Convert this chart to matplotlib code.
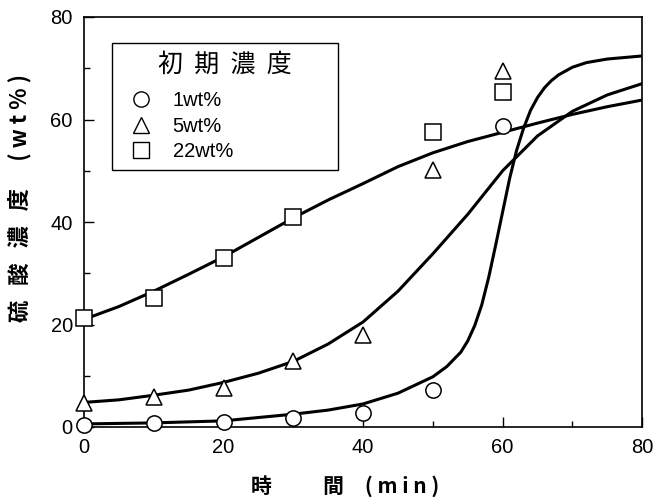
import numpy as np
import matplotlib
matplotlib.use('Agg')
import matplotlib.pyplot as plt
from matplotlib.lines import Line2D

plt.rcParams['font.family'] = ['Liberation Sans', 'Noto Sans CJK JP', 'DejaVu Sans']

# measured points
t_pts = [0, 10, 20, 30, 40, 50, 60]
c1_pts = [0.4, 0.8, 0.9, 1.8, 2.8, 7.2, 58.7]
c5_pts = [4.7, 5.9, 7.6, 12.8, 18.0, 50.2, 69.5]
t22_pts = [0, 10, 20, 30, 50, 60]
c22_pts = [21.2, 25.2, 33.0, 40.9, 57.5, 65.3]

# fitted curves
t1_curve = [0, 10, 20, 30, 35, 40, 45, 50, 52, 54, 55, 56, 57, 58, 59, 60, 61, 62, 63, 64,
            65, 66, 67, 68, 70, 72, 75, 80]
c1_curve = [0.6, 0.8, 1.2, 2.5, 3.3, 4.5, 6.6, 9.8, 11.8, 14.6, 16.8, 19.8, 23.8, 29.2, 35.5,
            42.0, 48.5, 54.0, 58.3, 61.8, 64.3, 66.2, 67.6, 68.7, 70.2, 71.1, 71.8, 72.4]
t5_curve = [0, 5, 10, 15, 20, 25, 30, 35, 40, 45, 50, 55, 60, 65, 70, 75, 80]
c5_curve = [4.8, 5.3, 6.2, 7.2, 8.7, 10.5, 12.8, 16.2, 20.5, 26.5, 33.8, 41.5, 50.0, 56.8, 61.6, 64.8, 67.0]
t22_curve = [0, 5, 10, 15, 20, 25, 30, 35, 40, 45, 50, 55, 60, 65, 70, 75, 80]
c22_curve = [21, 23.5, 26.5, 29.8, 33.2, 37, 40.8, 44.3, 47.5, 50.8, 53.5, 55.7, 57.5, 59.3, 61, 62.5, 63.8]

labels = ['1wt%', '5wt%', '22wt%']

fig = plt.figure(figsize=(6.56, 5.0), dpi=100)
ax = fig.add_axes([0.128, 0.146, 0.851, 0.82])

for tc, cc in [(t1_curve, c1_curve), (t5_curve, c5_curve), (t22_curve, c22_curve)]:
    ax.plot(tc, cc, color='black', lw=2.2, zorder=2, solid_joinstyle='round')

mk = dict(linestyle='none', markerfacecolor='white', markeredgecolor='black',
          markeredgewidth=1.1, clip_on=False, zorder=3)
ax.plot(t_pts, c1_pts, marker='o', markersize=11, **mk)
ax.plot(t_pts, c5_pts, marker='^', markersize=12, **mk)
ax.plot(t22_pts, c22_pts, marker='s', markersize=11, **mk)

ax.set_xlim(0, 80)
ax.set_ylim(0, 80)
ax.set_xticks([0, 20, 40, 60, 80])
ax.set_yticks([0, 20, 40, 60, 80])
ax.set_xticks([10, 30, 50, 70], minor=True)
ax.set_yticks([10, 30, 50, 70], minor=True)
ax.tick_params(which='major', direction='in', length=7, width=1, labelsize=14.5, pad=8)
ax.tick_params(which='minor', direction='in', length=4, width=1)
for s in ax.spines.values():
    s.set_linewidth(1.2)

ax.set_xlabel('時　　  間　( m i n )', fontsize=15, fontweight='bold',
              family=['Noto Sans CJK JP'], va='center')
ax.xaxis.set_label_coords(0.468, -0.145)
ax.set_ylabel('硫   酸   濃   度　 ( w t % )', fontsize=16, fontweight='bold',
              family=['Noto Sans CJK JP'], va='center')
ax.yaxis.set_label_coords(-0.115, 0.558)

handles = [Line2D([], [], marker=m, markersize=s, linestyle='none',
                  markerfacecolor='white', markeredgecolor='black', markeredgewidth=1.0)
           for m, s in [('o', 11), ('^', 12), ('s', 11)]]
leg = ax.legend(handles, labels, loc='upper left', bbox_to_anchor=(0.05, 0.622, 0.405, 0.315),
                mode='expand', title='初  期  濃  度', fontsize=14.5, frameon=True, fancybox=False,
                edgecolor='black', framealpha=1, handletextpad=0.5,
                borderpad=0.42, labelspacing=0.32, handlelength=2.1, borderaxespad=0)
leg.get_title().set_fontproperties({'family': ['Noto Sans CJK JP'], 'size': 18})
leg.get_frame().set_linewidth(1.0)
leg._legend_box.sep = 10

fig.savefig('out.png', dpi=100)
